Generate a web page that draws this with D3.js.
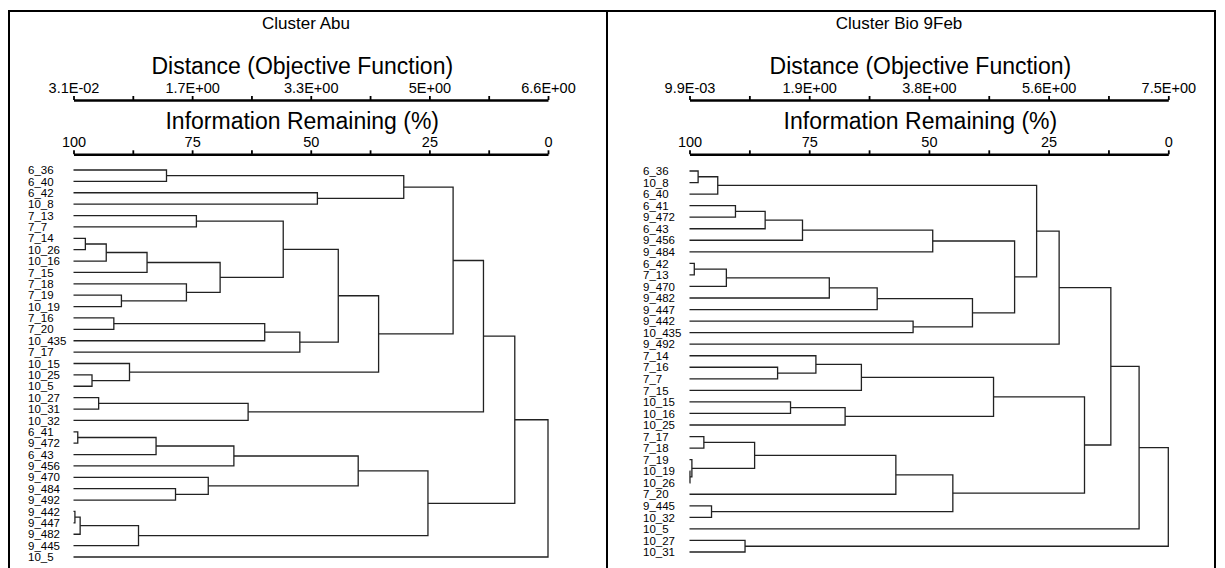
<!DOCTYPE html>
<html>
<head>
<meta charset="utf-8">
<script src="https://cdn.jsdelivr.net/npm/d3@7"></script>
<style>
  body { margin: 0; background: #fff; }
  svg text { font-family: "Liberation Sans", Arial, sans-serif; fill: #000; }
</style>
</head>
<body>
<svg id="chart" width="1225" height="568"></svg>
<script>
// Cluster Abu - leaf order top to bottom
var abuLeaves = ["6_36","6_40","6_42","10_8","7_13","7_7","7_14","10_26","10_16","7_15",
  "7_18","7_19","10_19","7_16","7_20","10_435","7_17","10_15","10_25","10_5",
  "10_27","10_31","10_32","6_41","9_472","6_43","9_456","9_470","9_484","9_492",
  "9_442","9_447","9_482","9_445","10_5"]
// merges: [child a, child b, information remaining %]; ids >= n are earlier merges
var abuMerges = [
  [0,1,80.4],[2,3,48.6],[35,36,30.4],[4,5,74.1],[6,7,97.5],[39,8,93.1],[40,9,84.5],
  [11,12,89.9],[10,42,76.2],[41,43,69.1],[38,44,55.8],[13,14,91.5],[46,15,59.7],
  [47,16,52.3],[45,48,44.2],[18,19,96.1],[17,50,88.2],[49,51,35.7],[37,52,20.0],
  [20,21,94.7],[54,22,63.2],[53,55,13.6],[23,24,99.1],[57,25,82.6],[58,26,66.2],
  [28,29,78.5],[27,60,71.6],[59,61,40.0],[30,31,99.7],[63,32,98.6],[64,33,86.3],
  [62,65,25.3],[56,66,7.0],[67,34,0]
]
var abuDistLabels = ["3.1E-02","1.7E+00","3.3E+00","5E+00","6.6E+00"]

// Cluster Bio 9Feb
var bioLeaves = ["6_36","10_8","6_40","6_41","9_472","6_43","9_456","9_484","6_42","7_13",
  "9_470","9_482","9_447","9_442","10_435","9_492","7_14","7_16","7_7","7_15",
  "10_15","10_16","10_25","7_17","7_18","7_19","10_19","10_26","7_20","9_445",
  "10_32","10_5","10_27","10_31"]
var bioMerges = [
  [0,1,98.2],[34,2,94.1],[3,4,90.4],[36,5,84.2],[37,6,76.4],[38,7,49.2],[8,9,99.0],
  [40,10,92.3],[41,11,70.8],[42,12,60.8],[13,14,53.3],[43,44,40.9],[39,45,32.1],
  [35,46,27.5],[47,15,22.8],[17,18,81.6],[16,49,73.6],[50,19,64.1],[20,21,78.9],
  [52,22,67.5],[51,53,36.5],[23,24,97.0],[26,27,99.9],[25,56,99.5],[55,57,86.4],
  [58,28,56.9],[29,30,95.4],[59,60,45.0],[54,61,17.5],[48,62,12.0],[63,31,6.1],
  [32,33,88.4],[64,65,0]
]
var bioDistLabels = ["9.9E-03","1.9E+00","3.8E+00","5.6E+00","7.5E+00"]

var infoTicks = [100, 75, 50, 25, 0]

var svg = d3.select("#chart")

// frame
svg.append("rect").attr("x", 9).attr("y", 11).attr("width", 1206).attr("height", 580)
  .attr("fill", "none").attr("stroke", "#000").attr("stroke-width", 2)
svg.append("line").attr("x1", 607).attr("x2", 607).attr("y1", 11).attr("y2", 568)
  .attr("stroke", "#000").attr("stroke-width", 2)

function drawPanel(opt) {
  var g = svg.append("g")
  var x = d3.scaleLinear().domain([100, 0]).range([opt.x0, opt.x1])
  var n = opt.leaves.length
  var y = d3.scaleLinear().domain([0, n - 1]).range([opt.y0, opt.y1])
  var cx = (opt.x0 + opt.x1) / 2 - 8.5

  g.append("text").attr("x", opt.titleX).attr("y", 29)
    .attr("text-anchor", "middle").style("font-size", "17px").text(opt.title)
  g.append("text").attr("x", cx).attr("y", 74)
    .attr("text-anchor", "middle").style("font-size", "23px").text("Distance (Objective Function)")
  g.append("text").attr("x", cx).attr("y", 128.5)
    .attr("text-anchor", "middle").style("font-size", "23px").text("Information Remaining (%)")

  // distance axis
  var dist = d3.scaleLinear().domain([opt.dmin, opt.dmax]).range([opt.x0, opt.x1])
  var dTicks = d3.range(9).map(function(i) { return opt.dmin + i * (opt.dmax - opt.dmin) / 8 })
  var dAxis = g.append("g").attr("transform", "translate(0,100)")
    .call(d3.axisTop(dist).tickValues(dTicks).tickSize(4).tickSizeOuter(0).tickPadding(3)
      .tickFormat(function(d, i) { return i % 2 == 0 ? opt.distLabels[i / 2] : "" }))
  styleAxis(dAxis)

  // information axis
  var iTicks = d3.range(9).map(function(i) { return 100 - i * 12.5 })
  var iAxis = g.append("g").attr("transform", "translate(0,154.3)")
    .call(d3.axisTop(x).tickValues(iTicks).tickSize(4).tickSizeOuter(0).tickPadding(3)
      .tickFormat(function(d) { return infoTicks.indexOf(d) >= 0 ? d : "" }))
  styleAxis(iAxis)

  // leaf labels
  g.selectAll(".leaf").data(opt.leaves).enter().append("text")
    .attr("x", opt.labelX).attr("y", function(d, i) { return y(i) })
    .attr("dy", "0.36em").style("font-size", "11.5px").text(function(d) { return d })

  // node positions
  var pos = opt.leaves.map(function(d, i) { return { x: x(100), y: y(i) } })
  var paths = []
  opt.merges.forEach(function(m) {
    var a = pos[m[0]], b = pos[m[1]]
    var nx = x(m[2]), ny = (a.y + b.y) / 2
    paths.push("M" + a.x + "," + a.y + "H" + nx + "V" + b.y + "H" + b.x)
    pos.push({ x: nx, y: ny })
  })
  g.selectAll(".link").data(paths).enter().append("path")
    .attr("d", function(d) { return d })
    .attr("fill", "none").attr("stroke", "#222").attr("stroke-width", 1.3)
}

function styleAxis(a) {
  a.select(".domain").attr("stroke", "#000").attr("stroke-width", 2.5)
  a.selectAll(".tick line").attr("stroke", "#000").attr("stroke-width", 1.8)
  a.selectAll(".tick text").style("font-size", "14.5px").style("font-family", "'Liberation Sans', Arial, sans-serif")
}

drawPanel({ title: "Cluster Abu", titleX: 306, leaves: abuLeaves, merges: abuMerges,
  x0: 73.5, x1: 548, y0: 170, y1: 557, labelX: 28,
  dmin: 0.031, dmax: 6.6, distLabels: abuDistLabels })
drawPanel({ title: "Cluster Bio 9Feb", titleX: 899, leaves: bioLeaves, merges: bioMerges,
  x0: 689.5, x1: 1168.3, y0: 171, y1: 552, labelX: 643,
  dmin: 0.0099, dmax: 7.5, distLabels: bioDistLabels })
</script>
</body>
</html>
